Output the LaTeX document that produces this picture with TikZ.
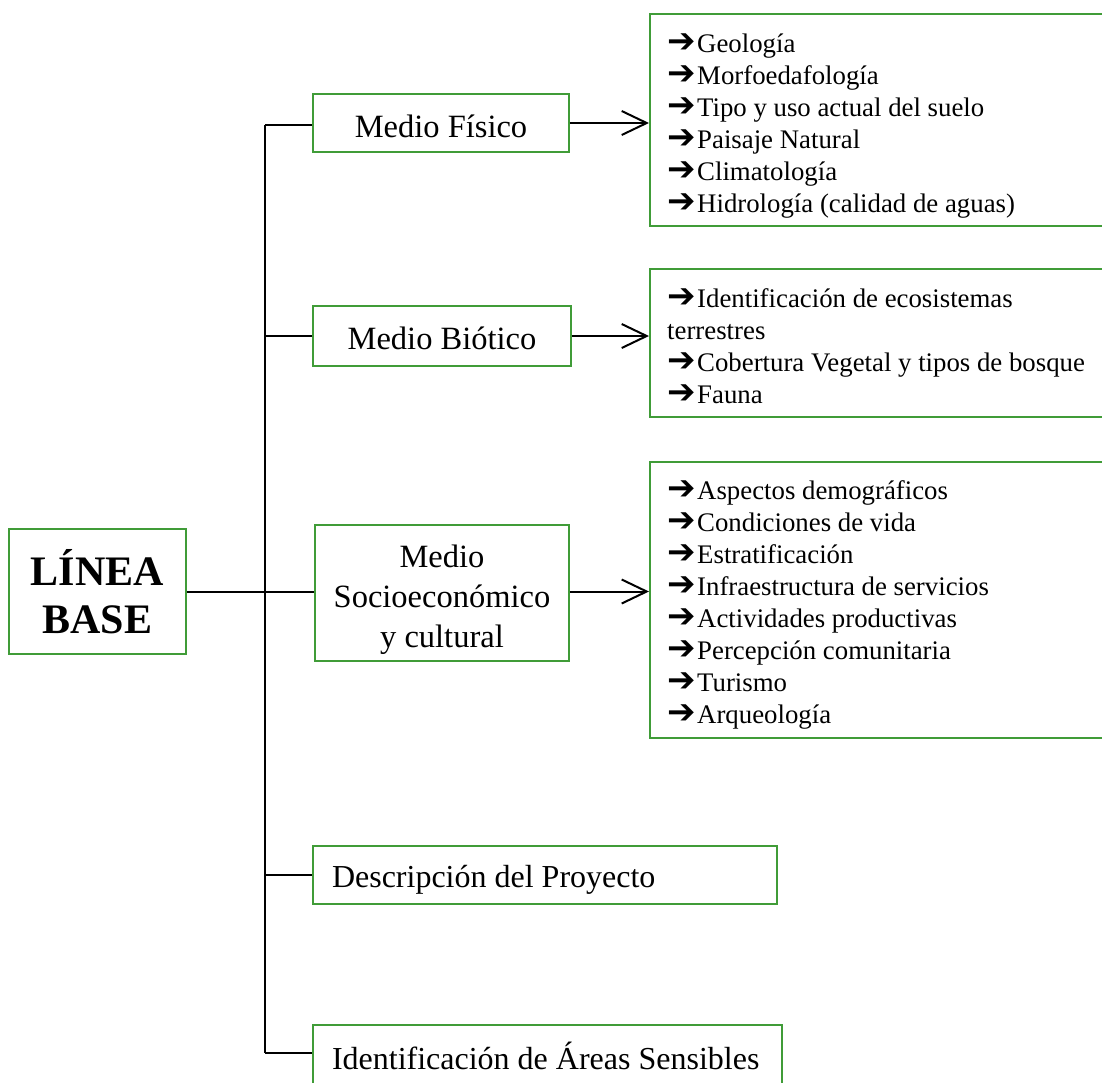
\documentclass[tikz,border=0pt]{standalone}
\usepackage{fontspec}
\setmainfont{Liberation Serif}
\newfontfamily\symfont{DejaVu Sans}
\usetikzlibrary{arrows.meta}
\definecolor{boxgreen}{RGB}{64,156,56}
\newcommand{\itemarrow}{\makebox[30pt][l]{\symfont\bfseries\fontsize{34}{34}\selectfont\char"2794}}
\tikzset{
  mbox/.style={draw=boxgreen, line width=1.6pt, align=center, inner sep=0pt,
    font=\fontsize{32.5}{40}\selectfont},
  pbox/.style={draw=boxgreen, line width=1.6pt, inner sep=0pt,
    font=\fontsize{32}{38}\selectfont},
  lbox/.style={draw=boxgreen, line width=1.6pt, anchor=north west, minimum width=470pt},
  item/.style={anchor=base west, inner sep=0pt, font=\fontsize{26.8}{32}\selectfont},
  link/.style={line width=2pt},
  arr/.style={line width=2pt, -{Straight Barb[length=25pt,width=24pt,line width=2pt]}}
}
\begin{document}
\begin{tikzpicture}[x=1pt,y=-1pt]
        \clip (0,0) rectangle (1102,1082);
        % main box
        \node[mbox, minimum width=177pt, minimum height=125pt,
              font=\fontsize{42}{48}\selectfont\bfseries] (base) at (97.5,591.5) {LÍNEA\\BASE};
        \coordinate (tt) at (265,125);
        \coordinate (tb) at (265,1053);

        % second level
        \node[mbox, minimum width=256pt, minimum height=58pt, text height=30pt, text depth=2pt]
             (fisico) at (441,123) {\spaceskip=0pt Medio Físico};
        \node[mbox, minimum width=258pt, minimum height=60pt, text height=29pt, text depth=3pt]
             (biotico) at (442,336) {\spaceskip=0pt Medio Biótico};
        \node[mbox, minimum width=254pt, minimum height=136pt]
             (socio) at (442,593) {\spaceskip=0pt\rule{0pt}{40pt}Medio\\Socioeconómico\\y cultural\strut};
        \node[pbox, minimum width=464pt, minimum height=58pt, text height=28pt, text depth=4pt]
             (proyecto) at (545,875) {\makebox[426pt][l]{Descripción del Proyecto}};
        \node[pbox, minimum width=469pt, minimum height=62pt, text height=28pt, text depth=2pt]
             (areas) at (547.5,1056) {\makebox[431pt][l]{Identificación de Áreas Sensibles}};

        % lists
        \node[lbox, minimum height=212pt] (fislist) at (649,13) {};
        \node[lbox, minimum height=148pt] (biolist) at (649,268) {};
        \node[lbox, minimum height=276pt] (soclist) at (649,461) {};

        \foreach \t [count=\i from 0] in {Geología, Morfoedafología,
            Tipo y uso actual del suelo, Paisaje Natural, Climatología,
            Hidrología (calidad de aguas)}
          \node[item] (fis\i) at (667,52+32*\i) {\itemarrow\t};

        \node[item] (bio0) at (667,307) {\itemarrow Identificación de ecosistemas};
        \node[item] (bio1) at (667,339) {terrestres};
        \node[item] (bio2) at (667,371) {\itemarrow Cobertura Vegetal y tipos de bosque};
        \node[item] (bio3) at (667,403) {\itemarrow Fauna};

        \foreach \t [count=\i from 0] in {Aspectos demográficos, Condiciones de vida,
            Estratificación, Infraestructura de servicios, Actividades productivas,
            Percepción comunitaria, Turismo, Arqueología}
          \node[item] (soc\i) at (667,499+32*\i) {\itemarrow\t};

        % connectors
        \draw[link] (tt) -- (tb);
        \draw[link] (base.east) -- (base.east -| socio.west);
        \draw[link] (tt) -- (tt -| fisico.west);
        \draw[link] (biotico.west -| tt) -- (biotico.west);
        \draw[link] (proyecto.west -| tt) -- (proyecto.west);
        \draw[link] (tb) -- (tb -| areas.west);

        \draw[arr] (fisico.east) -- (fisico.east -| fislist.west);
        \draw[arr] (biotico.east) -- (biotico.east -| biolist.west);
        \draw[arr] (base.east -| socio.east) -- (base.east -| soclist.west);
\end{tikzpicture}
\end{document}
